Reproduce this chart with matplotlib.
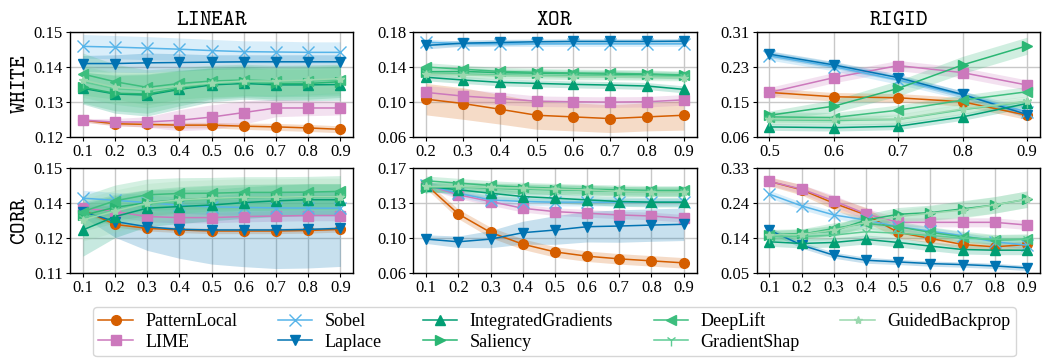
import numpy as np
import matplotlib
matplotlib.use("Agg")
import matplotlib.pyplot as plt

plt.rcParams['font.family'] = ['Liberation Serif', 'DejaVu Serif']
plt.rcParams['mathtext.fontset'] = 'cm'

METHODS = ["PatternLocal", "LIME", "Sobel", "Laplace", "IntegratedGradients",
           "Saliency", "DeepLift", "GradientShap", "GuidedBackprop"]
COLORS = ["#D55E00", "#CC78BC", "#56B4E9", "#0173B2", "#029E73",
          "#2AB673", "#3DBE7E", "#5ECC94", "#9AD8AE"]
MARKERS = ["o", "s", "x", "v", "^", ">", "<", "1", "*"]

ROWS = ["WHITE", "CORR"]
COLS = ["LINEAR", "XOR", "RIGID"]

X_FULL = [0.1, 0.2, 0.3, 0.4, 0.5, 0.6, 0.7, 0.8, 0.9]
X_WHITE_XOR = [0.2, 0.3, 0.4, 0.5, 0.6, 0.7, 0.8, 0.9]
X_WHITE_RIGID = [0.5, 0.6, 0.7, 0.8, 0.9]

# ---------------- WHITE / LINEAR ----------------
WL_MEAN = {
    "PatternLocal": [0.1248, 0.1238, 0.1236, 0.1234, 0.1234, 0.1231, 0.1229, 0.1226, 0.1222],
    "LIME": [0.1248, 0.1243, 0.1243, 0.1248, 0.1257, 0.1270, 0.1283, 0.1283, 0.1283],
    "Sobel": [0.1459, 0.1457, 0.1454, 0.1451, 0.1447, 0.1444, 0.1443, 0.1442, 0.1442],
    "Laplace": [0.1410, 0.1410, 0.1412, 0.1413, 0.1414, 0.1415, 0.1415, 0.1415, 0.1415],
    "IntegratedGradients": [0.1339, 0.1323, 0.1320, 0.1336, 0.1349, 0.1353, 0.1349, 0.1349, 0.1350],
    "Saliency": [0.1342, 0.1325, 0.1323, 0.1339, 0.1353, 0.1358, 0.1353, 0.1353, 0.1358],
    "DeepLift": [0.1380, 0.1358, 0.1342, 0.1353, 0.1360, 0.1363, 0.1360, 0.1361, 0.1363],
    "GradientShap": [0.1358, 0.1338, 0.1333, 0.1343, 0.1353, 0.1357, 0.1357, 0.1360, 0.1364],
    "GuidedBackprop": [0.1363, 0.1342, 0.1336, 0.1346, 0.1355, 0.1360, 0.1360, 0.1363, 0.1367],
}
WL_STD = {
    "PatternLocal": [0.0005, 0.0006, 0.0007, 0.0008, 0.0008, 0.0009, 0.0010, 0.0010, 0.0010],
    "LIME": [0.0005, 0.0010, 0.0015, 0.0030, 0.0035, 0.0033, 0.0025, 0.0022, 0.0020],
    "Sobel": [0.0034, 0.0033, 0.0033, 0.0032, 0.0032, 0.0031, 0.0031, 0.0030, 0.0030],
    "Laplace": [0.0023, 0.0025, 0.0028, 0.0025, 0.0021, 0.0020, 0.0020, 0.0020, 0.0020],
    "IntegratedGradients": [0.0045, 0.0055, 0.0060, 0.0055, 0.0048, 0.0045, 0.0045, 0.0045, 0.0045],
    "Saliency": [0.0045, 0.0050, 0.0055, 0.0050, 0.0045, 0.0045, 0.0045, 0.0045, 0.0045],
    "DeepLift": [0.0060, 0.0050, 0.0050, 0.0045, 0.0045, 0.0045, 0.0045, 0.0045, 0.0045],
    "GradientShap": [0.0045, 0.0045, 0.0050, 0.0045, 0.0042, 0.0040, 0.0040, 0.0040, 0.0040],
    "GuidedBackprop": [0.0045, 0.0045, 0.0050, 0.0045, 0.0042, 0.0040, 0.0040, 0.0040, 0.0040],
}

# ---------------- WHITE / XOR ----------------
WX_MEAN = {
    "PatternLocal": [0.1033, 0.0983, 0.0918, 0.0849, 0.0830, 0.0811, 0.0830, 0.0849],
    "LIME": [0.1110, 0.1068, 0.1041, 0.1010, 0.1003, 0.0999, 0.1003, 0.1025],
    "Sobel": [0.1685, 0.1665, 0.1665, 0.1665, 0.1665, 0.1665, 0.1665, 0.1665],
    "Laplace": [0.1647, 0.1673, 0.1681, 0.1689, 0.1693, 0.1693, 0.1693, 0.1696],
    "IntegratedGradients": [0.1283, 0.1252, 0.1225, 0.1213, 0.1202, 0.1194, 0.1183, 0.1145],
    "Saliency": [0.1345, 0.1350, 0.1336, 0.1330, 0.1325, 0.1320, 0.1315, 0.1305],
    "DeepLift": [0.1400, 0.1375, 0.1350, 0.1340, 0.1332, 0.1328, 0.1321, 0.1309],
    "GradientShap": [0.1330, 0.1320, 0.1310, 0.1305, 0.1300, 0.1300, 0.1295, 0.1290],
    "GuidedBackprop": [0.1320, 0.1310, 0.1300, 0.1295, 0.1290, 0.1290, 0.1285, 0.1280],
}
WX_STD = {
    "PatternLocal": [0.0180, 0.0180, 0.0170, 0.0160, 0.0160, 0.0160, 0.0160, 0.0170],
    "LIME": [0.0080, 0.0080, 0.0070, 0.0060, 0.0060, 0.0060, 0.0060, 0.0060],
    "Sobel": [0.0035, 0.0030, 0.0030, 0.0030, 0.0030, 0.0030, 0.0030, 0.0030],
    "Laplace": [0.0040, 0.0035, 0.0035, 0.0030, 0.0030, 0.0030, 0.0030, 0.0030],
    "IntegratedGradients": [0.0040, 0.0040, 0.0040, 0.0040, 0.0040, 0.0040, 0.0040, 0.0040],
    "Saliency": [0.0040, 0.0040, 0.0040, 0.0040, 0.0040, 0.0040, 0.0040, 0.0040],
    "DeepLift": [0.0050, 0.0045, 0.0045, 0.0045, 0.0045, 0.0045, 0.0045, 0.0045],
    "GradientShap": [0.0040, 0.0040, 0.0040, 0.0040, 0.0040, 0.0040, 0.0040, 0.0040],
    "GuidedBackprop": [0.0040, 0.0040, 0.0040, 0.0040, 0.0040, 0.0040, 0.0040, 0.0040],
}

# ---------------- WHITE / RIGID ----------------
WR_MEAN = {
    "PatternLocal": [0.1685, 0.1583, 0.1560, 0.1465, 0.1150],
    "LIME": [0.1685, 0.2031, 0.2314, 0.2149, 0.1858],
    "Sobel": [0.2542, 0.2290, 0.1976, 0.1622, 0.1229],
    "Laplace": [0.2581, 0.2330, 0.2031, 0.1638, 0.1167],
    "IntegratedGradients": [0.0876, 0.0860, 0.0892, 0.1112, 0.1426],
    "Saliency": [0.1150, 0.1363, 0.1780, 0.2330, 0.2778],
    "DeepLift": [0.1112, 0.1096, 0.1269, 0.1505, 0.1701],
    "GradientShap": [0.1040, 0.1030, 0.1050, 0.1280, 0.1470],
    "GuidedBackprop": [0.1070, 0.1060, 0.1060, 0.1300, 0.1480],
}
WR_STD = {
    "PatternLocal": [0.010, 0.010, 0.010, 0.010, 0.010],
    "LIME": [0.012, 0.012, 0.012, 0.012, 0.012],
    "Sobel": [0.010, 0.010, 0.010, 0.010, 0.010],
    "Laplace": [0.008, 0.008, 0.008, 0.008, 0.008],
    "IntegratedGradients": [0.008, 0.008, 0.008, 0.008, 0.010],
    "Saliency": [0.010, 0.015, 0.018, 0.020, 0.020],
    "DeepLift": [0.012, 0.012, 0.012, 0.012, 0.012],
    "GradientShap": [0.010, 0.010, 0.010, 0.010, 0.010],
    "GuidedBackprop": [0.012, 0.012, 0.012, 0.012, 0.012],
}

# ---------------- CORR / LINEAR ----------------
CL_MEAN = {
    "PatternLocal": [0.1340, 0.1285, 0.1270, 0.1264, 0.1260, 0.1260, 0.1260, 0.1262, 0.1266],
    "LIME": [0.1347, 0.1334, 0.1315, 0.1311, 0.1311, 0.1315, 0.1317, 0.1319, 0.1319],
    "Sobel": [0.1385, 0.1377, 0.1368, 0.1358, 0.1352, 0.1350, 0.1348, 0.1347, 0.1347],
    "Laplace": [0.1334, 0.1296, 0.1276, 0.1266, 0.1264, 0.1264, 0.1264, 0.1266, 0.1270],
    "IntegratedGradients": [0.1264, 0.1315, 0.1347, 0.1353, 0.1359, 0.1368, 0.1375, 0.1379, 0.1379],
    "Saliency": [0.1320, 0.1350, 0.1368, 0.1379, 0.1385, 0.1388, 0.1389, 0.1391, 0.1391],
    "DeepLift": [0.1334, 0.1375, 0.1398, 0.1403, 0.1404, 0.1407, 0.1407, 0.1408, 0.1411],
    "GradientShap": [0.1310, 0.1340, 0.1362, 0.1375, 0.1382, 0.1386, 0.1388, 0.1390, 0.1390],
    "GuidedBackprop": [0.1302, 0.1336, 0.1366, 0.1379, 0.1385, 0.1389, 0.1389, 0.1391, 0.1391],
}
CL_STD = {
    "PatternLocal": [0.0010, 0.0010, 0.0010, 0.0010, 0.0010, 0.0010, 0.0010, 0.0010, 0.0010],
    "LIME": [0.0020, 0.0020, 0.0020, 0.0020, 0.0020, 0.0020, 0.0020, 0.0020, 0.0020],
    "Sobel": [0.0030, 0.0030, 0.0030, 0.0030, 0.0030, 0.0030, 0.0030, 0.0030, 0.0030],
    "Laplace": [0.0020, 0.0060, 0.0090, 0.0110, 0.0130, 0.0140, 0.0147, 0.0147, 0.0145],
    "IntegratedGradients": [0.0100, 0.0080, 0.0070, 0.0065, 0.0060, 0.0060, 0.0060, 0.0060, 0.0060],
    "Saliency": [0.0050, 0.0050, 0.0050, 0.0050, 0.0050, 0.0050, 0.0050, 0.0050, 0.0050],
    "DeepLift": [0.0060, 0.0060, 0.0060, 0.0060, 0.0060, 0.0060, 0.0060, 0.0060, 0.0060],
    "GradientShap": [0.0050, 0.0050, 0.0050, 0.0050, 0.0050, 0.0050, 0.0050, 0.0050, 0.0050],
    "GuidedBackprop": [0.0080, 0.0080, 0.0075, 0.0072, 0.0070, 0.0070, 0.0070, 0.0070, 0.0070],
}

# ---------------- CORR / XOR ----------------
CX_MEAN = {
    "PatternLocal": [0.1524, 0.1218, 0.1025, 0.0902, 0.0821, 0.0776, 0.0748, 0.0727, 0.0706],
    "LIME": [0.1524, 0.1419, 0.1349, 0.1278, 0.1243, 0.1226, 0.1208, 0.1197, 0.1173],
    "Sobel": [0.1524, 0.1436, 0.1366, 0.1349, 0.1342, 0.1342, 0.1342, 0.1342, 0.1342],
    "Laplace": [0.0955, 0.0927, 0.0955, 0.1022, 0.1050, 0.1085, 0.1092, 0.1102, 0.1110],
    "IntegratedGradients": [0.1507, 0.1472, 0.1436, 0.1401, 0.1384, 0.1366, 0.1349, 0.1342, 0.1342],
    "Saliency": [0.1489, 0.1507, 0.1489, 0.1479, 0.1472, 0.1465, 0.1454, 0.1454, 0.1454],
    "DeepLift": [0.1566, 0.1542, 0.1517, 0.1500, 0.1489, 0.1479, 0.1472, 0.1465, 0.1465],
    "GradientShap": [0.1500, 0.1500, 0.1490, 0.1482, 0.1475, 0.1468, 0.1458, 0.1452, 0.1452],
    "GuidedBackprop": [0.1507, 0.1507, 0.1496, 0.1489, 0.1479, 0.1472, 0.1454, 0.1447, 0.1447],
}
CX_STD = {
    "PatternLocal": [0.0040, 0.0050, 0.0055, 0.0055, 0.0055, 0.0055, 0.0055, 0.0055, 0.0055],
    "LIME": [0.0040, 0.0040, 0.0040, 0.0040, 0.0040, 0.0040, 0.0040, 0.0040, 0.0040],
    "Sobel": [0.0040, 0.0040, 0.0040, 0.0040, 0.0040, 0.0040, 0.0040, 0.0040, 0.0040],
    "Laplace": [0.0045, 0.0060, 0.0090, 0.0120, 0.0150, 0.0160, 0.0170, 0.0170, 0.0170],
    "IntegratedGradients": [0.0050, 0.0050, 0.0050, 0.0050, 0.0050, 0.0050, 0.0050, 0.0050, 0.0050],
    "Saliency": [0.0050, 0.0050, 0.0050, 0.0050, 0.0050, 0.0050, 0.0050, 0.0050, 0.0050],
    "DeepLift": [0.0050, 0.0050, 0.0050, 0.0050, 0.0050, 0.0050, 0.0050, 0.0050, 0.0050],
    "GradientShap": [0.0050, 0.0050, 0.0050, 0.0050, 0.0050, 0.0050, 0.0050, 0.0050, 0.0050],
    "GuidedBackprop": [0.0050, 0.0050, 0.0050, 0.0050, 0.0050, 0.0050, 0.0050, 0.0050, 0.0050],
}

# ---------------- CORR / RIGID ----------------
CR_MEAN = {
    "PatternLocal": [0.2942, 0.2719, 0.2361, 0.2048, 0.1582, 0.1421, 0.1260, 0.1198, 0.1260],
    "LIME": [0.2942, 0.2736, 0.2423, 0.2074, 0.1851, 0.1851, 0.1851, 0.1851, 0.1779],
    "Sobel": [0.2602, 0.2289, 0.2048, 0.1913, 0.1734, 0.1618, 0.1493, 0.1332, 0.1242],
    "Laplace": [0.1645, 0.1242, 0.0974, 0.0840, 0.0795, 0.0750, 0.0724, 0.0688, 0.0634],
    "IntegratedGradients": [0.1332, 0.1287, 0.1314, 0.1395, 0.1314, 0.1216, 0.1126, 0.1108, 0.1108],
    "Saliency": [0.1511, 0.1556, 0.1618, 0.1913, 0.2066, 0.2110, 0.2209, 0.2316, 0.2468],
    "DeepLift": [0.1511, 0.1529, 0.1690, 0.1824, 0.1734, 0.1582, 0.1466, 0.1377, 0.1395],
    "GradientShap": [0.1470, 0.1470, 0.1510, 0.1600, 0.1560, 0.1500, 0.1430, 0.1400, 0.1400],
    "GuidedBackprop": [0.1511, 0.1529, 0.1645, 0.1851, 0.2003, 0.2092, 0.2181, 0.2316, 0.2468],
}
CR_STD = {
    "PatternLocal": [0.012, 0.014, 0.017, 0.020, 0.015, 0.012, 0.010, 0.010, 0.010],
    "LIME": [0.010, 0.012, 0.015, 0.015, 0.012, 0.012, 0.012, 0.012, 0.012],
    "Sobel": [0.010, 0.010, 0.010, 0.010, 0.010, 0.010, 0.010, 0.010, 0.010],
    "Laplace": [0.008, 0.008, 0.008, 0.008, 0.007, 0.007, 0.007, 0.007, 0.007],
    "IntegratedGradients": [0.012, 0.012, 0.012, 0.012, 0.012, 0.012, 0.012, 0.012, 0.012],
    "Saliency": [0.012, 0.012, 0.014, 0.016, 0.018, 0.020, 0.022, 0.022, 0.022],
    "DeepLift": [0.015, 0.015, 0.015, 0.015, 0.015, 0.015, 0.015, 0.015, 0.015],
    "GradientShap": [0.012, 0.012, 0.012, 0.012, 0.012, 0.012, 0.012, 0.012, 0.012],
    "GuidedBackprop": [0.012, 0.012, 0.014, 0.016, 0.018, 0.020, 0.022, 0.022, 0.022],
}

PANELS = [
    [(X_FULL, WL_MEAN, WL_STD, (0.12, 0.15)),
     (X_WHITE_XOR, WX_MEAN, WX_STD, (0.06, 0.18)),
     (X_WHITE_RIGID, WR_MEAN, WR_STD, (0.064, 0.31))],
    [(X_FULL, CL_MEAN, CL_STD, (0.11, 0.15)),
     (X_FULL, CX_MEAN, CX_STD, (0.06, 0.17)),
     (X_FULL, CR_MEAN, CR_STD, (0.05, 0.33))],
]

fig, axes = plt.subplots(2, 3, figsize=(10.43, 3.6), dpi=100)
fig.subplots_adjust(left=0.0671, right=0.997, top=0.911, bottom=0.2417,
                    wspace=0.212, hspace=0.295)

handles = []
for r in range(2):
    for c in range(3):
        ax = axes[r, c]
        xs, means, stds, (lo, hi) = PANELS[r][c]
        x = np.array(xs)
        for i, m in enumerate(METHODS):
            mu = np.array(means[m])
            sd = np.array(stds[m])
            ax.fill_between(x, mu - sd, mu + sd, color=COLORS[i], alpha=0.22,
                            linewidth=0, zorder=2)
            ms = 7 if MARKERS[i] in ("o", "s", "v", "^", ">", "<") else 8
            if MARKERS[i] == "*":
                ms = 6
            (ln,) = ax.plot(x, mu, color=COLORS[i], marker=MARKERS[i], lw=1.1,
                            ms=ms, mew=1.0, label=m, zorder=3)
            if r == 0 and c == 0:
                handles.append(ln)
        ax.set_ylim(lo, hi)
        yt = np.linspace(lo, hi, 4)
        ax.set_yticks(yt)
        ax.set_yticklabels(["%.2f" % v for v in yt])
        ax.set_xticks(x)
        ax.set_xticklabels(["%.1f" % v for v in xs])
        ax.grid(True, color="#c8c8c8", lw=1.0, zorder=0)
        ax.set_axisbelow(True)
        ax.tick_params(labelsize=12, length=3, width=0.8, pad=2)
        for s in ax.spines.values():
            s.set_linewidth(1.0)
        if r == 0:
            ax.set_title(r"$\mathtt{%s}$" % COLS[c], fontsize=16, pad=5)
        if c == 0:
            ax.set_ylabel(r"$\mathtt{%s}$" % ROWS[r], fontsize=16, labelpad=3)

leg = fig.legend(handles=handles, labels=METHODS, loc="center",
                 bbox_to_anchor=(0.5316, 0.079), ncol=5, fontsize=13,
                 frameon=True, handlelength=1.9, columnspacing=2.25,
                 borderpad=0.3, labelspacing=0.2, handletextpad=0.7)
leg.get_frame().set_edgecolor("#cccccc")
leg.get_frame().set_linewidth(1.0)

fig.savefig("out.png", dpi=100)
